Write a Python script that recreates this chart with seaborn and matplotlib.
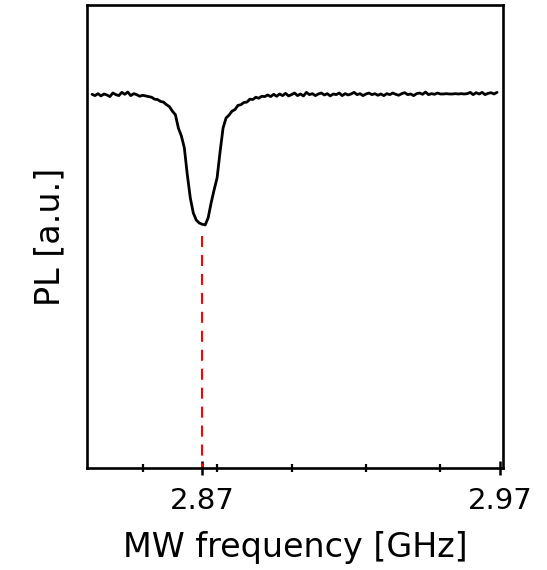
import numpy as np
import matplotlib
matplotlib.use("Agg")
import matplotlib.pyplot as plt
from matplotlib.ticker import MultipleLocator
import seaborn as sns

# MW sweep, 1 MHz steps
freq_start = 2.833
freq_stop = 2.969
freq = np.round(np.arange(freq_start, freq_stop + 0.0005, 0.001), 3)

# normalized PL
pl_left = [1.0002, 0.9998, 1.0004, 0.9997, 1.0003, 1.0000, 0.9995, 1.0006, 1.0001,
           0.9998, 1.0008, 1.0002, 1.0009, 0.9998, 1.0004, 1.0001, 0.9996, 0.9999]
pl_dip = [0.9997, 0.9995, 0.9993, 0.9987, 0.9986, 0.9980, 0.9978, 0.9970, 0.9964,
          0.9950, 0.9939, 0.9898, 0.9874, 0.9837, 0.9754, 0.9683, 0.9637, 0.9615,
          0.9606, 0.9602, 0.9600, 0.9622, 0.9668, 0.9708, 0.9745, 0.9825, 0.9898,
          0.9929, 0.9938, 0.9950, 0.9955, 0.9968, 0.9970, 0.9977, 0.9978, 0.9987,
          0.9986, 0.9993, 0.9990, 0.9996, 0.9995, 1.0000]
pl_right = [0.9995, 1.0002, 0.9996, 1.0003, 0.9998, 1.0005, 0.9997, 1.0001, 1.0006, 0.9998,
            1.0003, 0.9997, 1.0008, 1.0001, 1.0004, 0.9998, 1.0003, 1.0006, 1.0000, 1.0004,
            0.9997, 1.0003, 1.0001, 1.0006, 0.9998, 1.0004, 1.0000, 1.0003, 1.0008, 1.0001,
            1.0004, 0.9998, 1.0003, 1.0006, 1.0001, 1.0004, 0.9999, 1.0003, 0.9998, 1.0004,
            1.0001, 1.0006, 1.0002, 0.9999, 1.0004, 1.0007, 1.0001, 1.0003, 0.9998, 1.0004,
            1.0006, 1.0002, 1.0009, 1.0001, 1.0004, 1.0002, 1.0006, 1.0003, 1.0003, 1.0004,
            1.0003, 1.0003, 1.0004, 1.0003, 1.0004, 1.0003, 1.0004, 1.0008, 1.0001, 1.0007,
            1.0003, 1.0008, 1.0001, 1.0005, 1.0007, 1.0003, 1.0008]
pl = np.array(pl_left + pl_dip + pl_right)

f_res = 2.87
xticks = [2.87, 2.97]
xtick_labels = ["2.87", "2.97"]

sns.set_style("white")
plt.rcParams['font.family'] = ['DejaVu Sans']
plt.rcParams['text.color'] = 'black'
plt.rcParams['axes.labelcolor'] = 'black'
plt.rcParams['xtick.color'] = 'black'

fig = plt.figure(figsize=(5.47, 5.70), dpi=100)
ax = fig.add_axes([0.159, 0.179, 0.7605, 0.8123])

sns.lineplot(x=freq, y=pl, color='black', linewidth=2.0, ax=ax)

ymin, ymax = 0.8852, 1.0277
# dashed marker from just below the dip minimum down to the axis
ax.plot([f_res, f_res], [pl.min() - 0.0034, ymin], color='red',
        linestyle=(0, (5.3, 3.8)), linewidth=1.5)

ax.set_xlim(2.8313, 2.971)
ax.set_ylim(ymin, ymax)

ax.set_xticks(xticks)
ax.set_xticklabels(xtick_labels)
ax.xaxis.set_minor_locator(MultipleLocator(0.025))
ax.set_yticks([])
ax.tick_params(axis='x', which='major', direction='inout', length=10, width=1.8,
               labelsize=21, pad=9, bottom=True)
ax.tick_params(axis='x', which='minor', direction='inout', length=5.5, width=1.6, bottom=True)

for s in ax.spines.values():
    s.set_linewidth(1.9)
    s.set_color('black')

ax.set_xlabel('MW frequency [GHz]', fontsize=24, labelpad=11)
ax.set_ylabel('PL [a.u.]', fontsize=24, labelpad=15)

fig.savefig('out.png', dpi=100)
